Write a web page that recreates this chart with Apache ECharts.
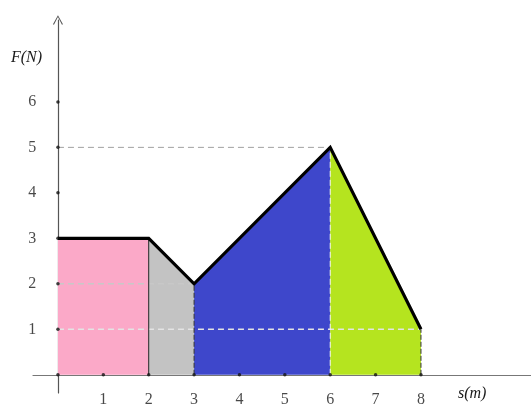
<!DOCTYPE html>
<html>
<head>
<meta charset="utf-8">
<script src="https://cdn.jsdelivr.net/npm/echarts@6/dist/echarts.min.js"></script>
<style>
  html, body { margin: 0; padding: 0; background: #fff; }
  #chart { width: 531px; height: 406px; }
</style>
</head>
<body>
<div id="chart"></div>
<script>
// outline of F(s)
const sValues = [0, 2, 3, 6, 8];
const fValues = [3, 3, 2, 5, 1];
// fill colour of each piece between two outline points
const pieceColors = ['#fba9c8', '#c3c3c3', '#3e47cb', '#b5e41f'];
// tick labels
const xTicks = [1, 2, 3, 4, 5, 6, 7, 8];
const yTicks = [1, 2, 3, 4, 5, 6];

const chart = echarts.init(document.getElementById('chart'));

const series = [];

// coloured areas, one per piece
for (let i = 0; i < pieceColors.length; i++) {
  series.push({
    type: 'line',
    data: [[sValues[i], fValues[i]], [sValues[i + 1], fValues[i + 1]]],
    symbol: 'none',
    lineStyle: { width: 0 },
    areaStyle: { color: pieceColors[i], opacity: 1, origin: 0 },
    z: 1
  });
}

// guide lines
function guide(points, color, type, width) {
  return {
    type: 'line',
    data: points,
    symbol: 'none',
    lineStyle: { color: color, type: type, width: width || 1 },
    z: 3
  };
}
series.push(guide([[0, 5], [6, 5]], '#a0a0a0', [6, 4]));
series.push(guide([[0, 2], [3, 2]], '#c8c8c8', [6, 4], 1.5));
series.push(guide([[0, 1], [8, 1]], '#e4e4e4', [6, 4], 1.5));
series.push(guide([[2, 0], [2, 3]], '#222', 'solid'));
series.push(guide([[3, 0], [3, 2]], '#333', [5, 2]));
series.push(guide([[6, 0], [6, 5]], '#f4f4f4', [6, 3]));
series.push(guide([[8, 0], [8, 1]], '#333', [5, 2]));

// thick outline
series.push({
  type: 'line',
  data: sValues.map((s, i) => [s, fValues[i]]),
  symbol: 'none',
  lineStyle: { color: '#000', width: 3.2, join: 'miter' },
  z: 5
});

const labelFont = { fontFamily: 'Liberation Serif', fontSize: 16, color: '#1a1a1a' };

// tick dots with their labels
series.push({
  type: 'scatter',
  data: xTicks.map(v => [v, 0]),
  symbolSize: 3.5,
  itemStyle: { color: '#111' },
  label: Object.assign({ show: true, position: 'bottom', distance: 15, formatter: p => p.value[0] }, labelFont),
  z: 6
});
series.push({
  type: 'scatter',
  data: yTicks.map(v => [0, v]),
  symbolSize: 3.5,
  itemStyle: { color: '#111' },
  label: Object.assign({ show: true, position: 'left', distance: 20, formatter: p => p.value[1] }, labelFont),
  z: 6
});
series.push({
  type: 'scatter',
  data: [[0, 0]],
  symbolSize: 3.5,
  itemStyle: { color: '#111' },
  z: 6
});

chart.setOption({
  animation: false,
  grid: { left: 33, right: 0, top: 20, bottom: 13, outerBoundsMode: 'none' },
  xAxis: {
    type: 'value',
    min: -0.55,
    max: 10.425,
    axisLine: { onZero: true, lineStyle: { color: '#777', width: 1.2 } },
    axisTick: { show: false },
    splitLine: { show: false },
    axisLabel: { show: false }
  },
  yAxis: {
    type: 'value',
    min: -0.4,
    max: 7.8,
    axisLine: {
      show: true,
      onZero: true,
      symbol: ['none', 'path://M0,9 L5,0 L10,9 L9,9.6 L5,1.8 L1,9.6 Z'],
      symbolSize: [10, 10],
      lineStyle: { color: '#555', width: 1.2 }
    },
    axisTick: { show: false },
    splitLine: { show: false },
    axisLabel: { show: false }
  },
  graphic: [
    {
      type: 'text', left: 11, top: 50,
      style: { text: 'F(N)', font: 'italic 16px "Liberation Serif"', fill: '#1a1a1a' }
    },
    {
      type: 'text', left: 458, top: 386,
      style: { text: 's(m)', font: 'italic 16px "Liberation Serif"', fill: '#1a1a1a' }
    }
  ],
  series: series
});
</script>
</body>
</html>
